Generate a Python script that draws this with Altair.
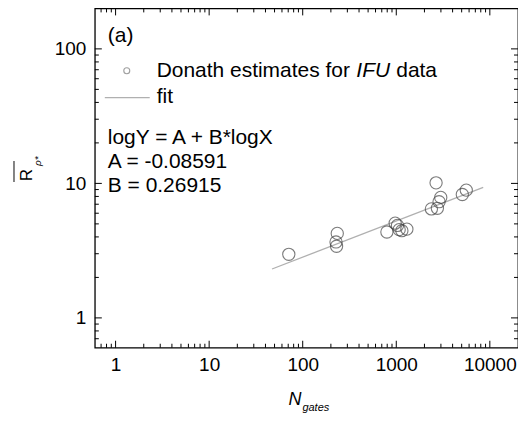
import altair as alt
import pandas as pd

# Data
n_gates = [71, 234, 227, 230, 794, 973, 1030, 1074, 1148, 1298,
           2373, 2663, 2750, 2866, 2988, 5080, 5600]
r_mean = [2.97, 4.25, 3.67, 3.41, 4.35, 5.06, 4.87, 4.53, 4.45, 4.57,
          6.46, 10.1, 6.53, 7.31, 7.87, 8.27, 8.91]

fit_x = [47, 8500]
fit_y = [2.31, 9.35]

x_major = [1, 10, 100, 1000, 10000]
y_major = [1, 10, 100]
x_minor = [0.7, 0.8, 0.9] + [m * d for d in [1, 10, 100, 1000] for m in range(2, 10)]
y_minor = [0.7, 0.8, 0.9] + [m * d for d in [1, 10] for m in range(2, 10)]

W, H = 424, 340
FONT = "Liberation Sans"

xs = alt.Scale(type="log", domain=[0.6, 20000], nice=False)
ys = alt.Scale(type="log", domain=[0.6, 200], nice=False)

x_axis = alt.Axis(values=x_major, format="d", ticks=False, domain=False, grid=False,
                  labelFont=FONT, labelFontSize=19, labelColor="black",
                  labelPadding=8, title=None)
y_axis = alt.Axis(values=y_major, format="d", ticks=False, domain=False, grid=False,
                  labelFont=FONT, labelFontSize=19, labelColor="black",
                  labelPadding=9, title=None)

pts = pd.DataFrame({"x": n_gates, "y": r_mean})
fit = pd.DataFrame({"x": fit_x, "y": fit_y})

fit_layer = alt.Chart(fit).mark_line(color="#b0b0b0", strokeWidth=1.3, clip=True).encode(
    x=alt.X("x:Q", scale=xs, axis=x_axis),
    y=alt.Y("y:Q", scale=ys, axis=y_axis),
)

pt_layer = alt.Chart(pts).mark_point(shape="circle", size=150, filled=False,
                                     color="#444444", strokeWidth=1.1).encode(
    x=alt.X("x:Q", scale=xs, axis=x_axis),
    y=alt.Y("y:Q", scale=ys, axis=y_axis),
)

def xticks(vals, length):
    df = pd.DataFrame({"v": vals})
    b = alt.Chart(df).mark_rule(color="black", strokeWidth=1).encode(
        x=alt.X("v:Q", scale=xs, axis=x_axis), y=alt.value(H), y2=alt.value(H - length))
    t = alt.Chart(df).mark_rule(color="black", strokeWidth=1).encode(
        x=alt.X("v:Q", scale=xs, axis=x_axis), y=alt.value(0), y2=alt.value(length))
    return [b, t]

def yticks(vals, length):
    df = pd.DataFrame({"v": vals})
    l = alt.Chart(df).mark_rule(color="black", strokeWidth=1).encode(
        y=alt.Y("v:Q", scale=ys, axis=y_axis), x=alt.value(0), x2=alt.value(length))
    r = alt.Chart(df).mark_rule(color="black", strokeWidth=1).encode(
        y=alt.Y("v:Q", scale=ys, axis=y_axis), x=alt.value(W), x2=alt.value(W - length))
    return [l, r]

tick_layers = xticks(x_major, 7) + xticks(x_minor, 4) + yticks(y_major, 7) + yticks(y_minor, 4)

def txt(s, x, y, size=21, style="normal", align="left", baseline="middle", angle=0, color="black"):
    kw = dict(text=s, font=FONT, fontSize=size, fontStyle=style, align=align,
              baseline=baseline, color=color)
    if angle:
        kw["angle"] = angle
    return alt.Chart(pd.DataFrame({"a": [0]})).mark_text(**kw).encode(
        x=alt.value(x), y=alt.value(y))

annotations = [
    txt("(a)", 13, 28),
    txt("Donath estimates for", 62, 63),
    txt("IFU", 262, 63, style="italic"),
    txt("data", 302, 63),
    txt("fit", 62, 89),
    txt("logY = A + B*logX", 13, 130),
    txt("A = -0.08591", 13, 154),
    txt("B = 0.26915", 13, 178),
    txt("N", 194, 397, size=18, style="italic", baseline="alphabetic"),
    txt("gates", 208, 403, size=11, style="italic", baseline="alphabetic"),
    txt("R", -68, 167, size=17, angle=270, align="center"),
    txt("ρ*", -57, 153, size=10, style="italic", angle=270, align="center"),
]

leg_pt = alt.Chart(pd.DataFrame({"a": [0]})).mark_point(
    shape="circle", size=36, filled=False, color="#777777", strokeWidth=1.1).encode(
    x=alt.value(32), y=alt.value(62.5))
leg_line = alt.Chart(pd.DataFrame({"a": [0]})).mark_rule(color="#b0b0b0", strokeWidth=1.3).encode(
    x=alt.value(10), x2=alt.value(55), y=alt.value(89.5))
overline = alt.Chart(pd.DataFrame({"a": [0]})).mark_rule(color="#333333", strokeWidth=1.2).encode(
    x=alt.value(-81), y=alt.value(153), y2=alt.value(174))

chart = alt.layer(
    fit_layer, pt_layer, *tick_layers, leg_pt, leg_line, overline, *annotations
).properties(
    width=W, height=H,
    autosize=alt.AutoSizeParams(type="none"),
    padding={"left": 87, "top": 0, "right": 0, "bottom": 70},
).configure_view(stroke="black", strokeWidth=1.3)

chart.save("out.html", embed_options={"renderer": "svg", "actions": False})
